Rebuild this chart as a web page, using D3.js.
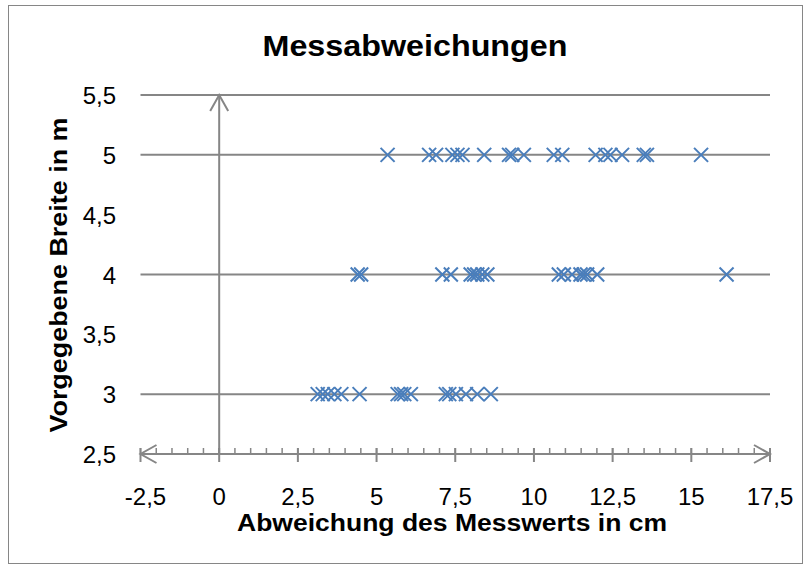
<!DOCTYPE html>
<html>
<head>
<meta charset="utf-8">
<script src="https://cdn.jsdelivr.net/npm/d3@7/dist/d3.min.js"></script>
<style>
  body { margin: 0; background: #fff; }
  text { font-family: "Liberation Sans", Arial, sans-serif; }
</style>
</head>
<body>
<div id="chart"></div>
<script>
// chart texts
var chartTitle = "Messabweichungen";
var xTitle = "Abweichung des Messwerts in cm";
var yTitle = "Vorgegebene Breite in m";

// axis ticks
var xTicks = [-2.5, 0, 2.5, 5, 7.5, 10, 12.5, 15, 17.5];
var yTicks = [2.5, 3, 3.5, 4, 4.5, 5, 5.5];
var gridLevels = [3, 4, 5, 5.5];

// given widths (m) and measured deviations (cm)
var widths = [5, 4, 3];
var dev5 = [5.35, 6.67, 6.89, 7.41, 7.57, 7.73, 8.42, 9.21, 9.31, 9.68, 10.63, 10.90,
            11.96, 12.27, 12.43, 12.80, 13.49, 13.59, 15.31];
var dev4 = [4.40, 4.51, 7.09, 7.36, 7.99, 8.10, 8.20, 8.36, 8.52, 10.79, 10.95, 11.21,
            11.48, 11.58, 11.69, 12.01, 16.12];
var dev3 = [3.13, 3.29, 3.45, 3.66, 3.88, 4.46, 5.67, 5.78, 5.88, 6.09, 7.20, 7.31,
            7.52, 7.84, 8.20, 8.63];

var width = 811, height = 569;
var axisColor = "#868686", markColor = "#4a7ebb";

var svg = d3.select("#chart").append("svg")
    .attr("width", width)
    .attr("height", height);

// chart border
svg.append("rect")
    .attr("x", 8.5).attr("y", 5.5)
    .attr("width", 794).attr("height", 558)
    .attr("fill", "none")
    .attr("stroke", axisColor)
    .attr("stroke-width", 1);

var x = d3.scaleLinear().domain([-2.5, 17.5]).range([140.5, 770]);
var y = d3.scaleLinear().domain([2.5, 5.5]).range([454, 95]);

// german number format, plain hyphen for negatives
var fmt = function(d) { return String(d).replace(".", ","); };

// horizontal gridlines
svg.selectAll(".grid")
    .data(gridLevels)
    .enter().append("line")
    .attr("class", "grid")
    .attr("x1", x(-2.5)).attr("x2", x(17.5))
    .attr("y1", function(d) { return y(d); })
    .attr("y2", function(d) { return y(d); })
    .attr("stroke", axisColor)
    .attr("stroke-width", 2);

// x axis (at y = 2,5) with minor and major ticks
var y0 = y(2.5);
svg.selectAll(".minor")
    .data(x.ticks(40))
    .enter().append("line")
    .attr("x1", function(d) { return x(d); })
    .attr("x2", function(d) { return x(d); })
    .attr("y1", y0 - 6).attr("y2", y0)
    .attr("stroke", axisColor).attr("stroke-width", 1.5);

svg.selectAll(".major")
    .data(xTicks)
    .enter().append("line")
    .attr("x1", function(d) { return x(d); })
    .attr("x2", function(d) { return x(d); })
    .attr("y1", y0 - 6).attr("y2", y0 + 8)
    .attr("stroke", axisColor).attr("stroke-width", 2);

svg.append("line")
    .attr("x1", x(-2.5)).attr("x2", x(17.5))
    .attr("y1", y0).attr("y2", y0)
    .attr("stroke", axisColor).attr("stroke-width", 2);

// arrow heads
function arrow(px, py, dx, dy) {
    // open chevron pointing in direction (dx, dy)
    var L = 16, W = 9;
    var bx = px - dx * L, by = py - dy * L;
    return "M" + (bx - dy * W) + "," + (by + dx * W) +
           "L" + px + "," + py +
           "L" + (bx + dy * W) + "," + (by - dx * W);
}
svg.append("path").attr("d", arrow(x(-2.5), y0, -1, 0))
    .attr("fill", "none").attr("stroke", axisColor).attr("stroke-width", 2);
svg.append("path").attr("d", arrow(x(17.5), y0, 1, 0))
    .attr("fill", "none").attr("stroke", axisColor).attr("stroke-width", 2);

// y axis (at x = 0)
svg.append("line")
    .attr("x1", x(0)).attr("x2", x(0))
    .attr("y1", y0).attr("y2", y(5.5))
    .attr("stroke", axisColor).attr("stroke-width", 2);
svg.append("path").attr("d", arrow(x(0), y(5.5), 0, -1))
    .attr("fill", "none").attr("stroke", axisColor).attr("stroke-width", 2);

// tick labels
svg.selectAll(".xlab")
    .data(xTicks)
    .enter().append("text")
    .attr("x", function(d) { return x(d) + (d < 0 ? 5 : 0); })
    .attr("y", 505)
    .attr("text-anchor", "middle")
    .attr("font-size", 24)
    .text(fmt);

svg.selectAll(".ylab")
    .data(yTicks)
    .enter().append("text")
    .attr("x", 116)
    .attr("y", function(d) { return y(d) + 9; })
    .attr("text-anchor", "end")
    .attr("font-size", 24)
    .text(fmt);

// markers
var points = [];
[dev5, dev4, dev3].forEach(function(arr, i) {
    arr.forEach(function(v) { points.push({x: v, y: widths[i]}); });
});
var s = 7;
svg.selectAll(".mark")
    .data(points)
    .enter().append("path")
    .attr("d", function(d) {
        var px = x(d.x), py = y(d.y);
        return "M" + (px - s) + "," + (py - s) + "L" + (px + s) + "," + (py + s) +
               "M" + (px - s) + "," + (py + s) + "L" + (px + s) + "," + (py - s);
    })
    .attr("stroke", markColor)
    .attr("stroke-width", 2)
    .attr("fill", "none");

// titles
svg.append("text")
    .attr("x", 415).attr("y", 56)
    .attr("text-anchor", "middle")
    .attr("font-size", 29).attr("font-weight", "bold")
    .attr("textLength", 305).attr("lengthAdjust", "spacingAndGlyphs")
    .text(chartTitle);

svg.append("text")
    .attr("x", 452).attr("y", 531)
    .attr("text-anchor", "middle")
    .attr("font-size", 23).attr("font-weight", "bold")
    .attr("textLength", 430).attr("lengthAdjust", "spacingAndGlyphs")
    .text(xTitle);

svg.append("text")
    .attr("transform", "translate(67,275) rotate(-90)")
    .attr("text-anchor", "middle")
    .attr("font-size", 23).attr("font-weight", "bold")
    .attr("textLength", 315).attr("lengthAdjust", "spacingAndGlyphs")
    .text(yTitle);
</script>
</body>
</html>
